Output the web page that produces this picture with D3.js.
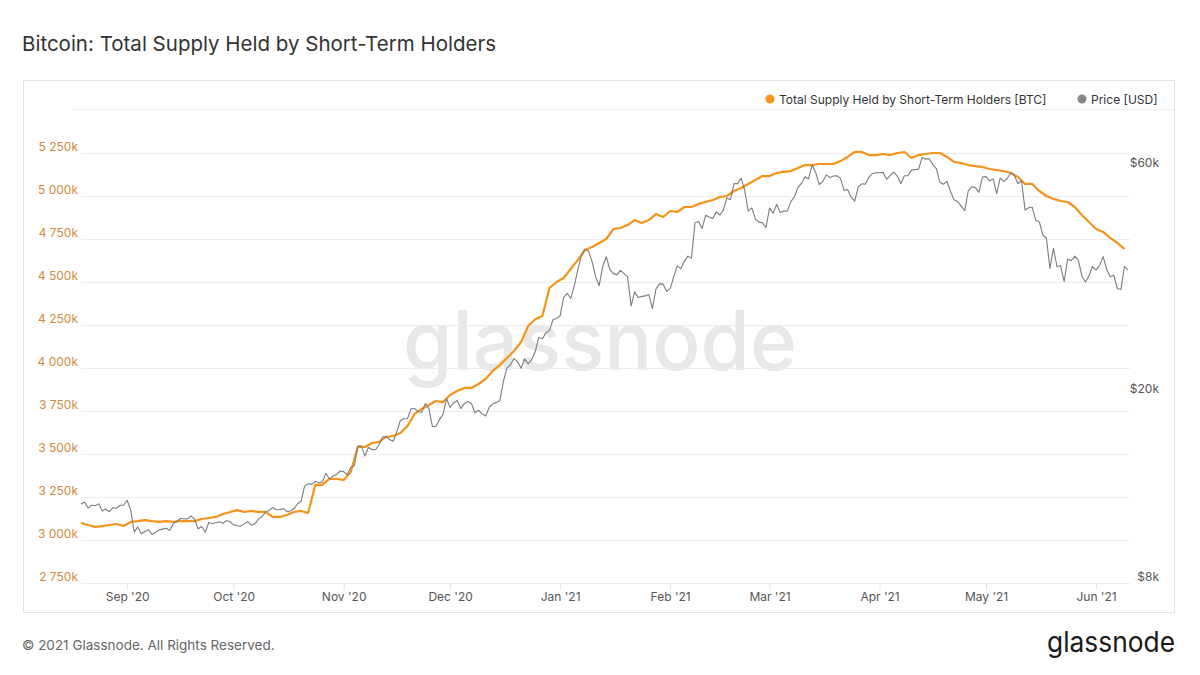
<!DOCTYPE html>
<meta charset="utf-8">
<body>
    <div id="chart"></div>
</body>
<script src="https://cdn.jsdelivr.net/npm/d3@7"></script>
<style>
    body { margin: 0; background: #fff; }
    text { font-family: Inter, "Noto Sans", sans-serif; }
    .grid line { stroke: #ededed; }
</style>
<script>

    // daily BTC price, starting 2020-08-19
    var priceStart = "2020-08-19";
    var priceUsd = [
        11750,11870,11520,11680,11650,11760,11360,11470,11320,11540,11510,11680,11680,
        11970,11410,10250,10510,10170,10280,10370,10130,10240,10360,10400,10440,10330,10680,10790,10950,10940,10930,11090,10920,10420,10530,10240,10740,10690,10730,10780,10700,10840,10780,
        10620,10570,10550,10670,10790,10600,10670,10920,11060,11300,11380,11550,11430,11430,11500,11320,11360,11480,11750,11920,12820,12970,12930,13110,13030,13070,13650,13270,13460,13560,13800,
        13760,13550,14030,14160,15590,15580,14840,15480,15330,15300,15700,16280,16320,16070,15960,16720,17650,17800,17820,18680,18700,18420,18370,19160,18720,17150,17140,17720,18180,19630,
        18800,19220,19450,18700,19150,19360,19170,18320,18550,18250,18040,18800,19140,19250,19420,21310,22800,23140,23870,23480,22750,23820,23250,23730,24710,26440,26280,27040,27360,28840,29000,
        29370,32130,32780,31970,33990,36820,39370,40670,40240,38240,35540,34010,37390,39160,36830,36070,35850,36650,36070,35550,30830,33010,32100,32290,32370,32570,30430,33470,34320,34270,33110,
        33530,35510,37470,36930,38290,39270,38900,46200,46480,44920,47910,47500,47170,48720,47940,49200,52150,51680,55890,55890,57410,54090,48890,49700,47090,46340,46190,45140,
        49630,48380,50540,48560,48930,48910,51210,52380,54880,55960,57800,57220,61190,59000,55660,56470,58330,57600,58030,58100,57350,54100,54340,52300,51320,55030,55850,55780,57630,58730,58920,
        58960,59040,57080,58200,59120,58010,55950,58080,58090,59770,59790,59990,63500,62970,63100,61330,60110,56270,55720,56500,53800,51700,51190,50100,49000,54020,55040,54820,53560,57750,
        57830,56630,57210,53240,57470,56430,57380,58930,58230,55860,56700,49150,49720,49880,46760,46430,43540,42910,37000,40780,37300,37530,34700,38700,38400,39290,38530,35660,34620,35680,37340,
        36690,37570,39190,36830,35520,35800,33550,33400,37390,36680
    ];

    // STH supply in thousands of BTC, every 2nd day from 2020-08-19
    var supplyStart = "2020-08-19";
    var supplyStep = 2;
    var supplyK = [
        3099,3087,3076,3081,3087,3093,3081,3105,3110,3116,
        3110,3105,3110,3105,3110,3110,3110,3122,3128,3134,
        3151,3163,3174,3163,3169,3163,3163,3134,3134,3145,
        3163,3169,3157,3320,3320,3355,3355,3349,3395,3541,
        3541,3564,3570,3599,3605,3622,3663,3733,3762,3785,
        3808,3802,3843,3866,3884,3884,3907,3936,3983,4017,
        4058,4099,4151,4244,4285,4302,4465,4500,4523,4576,
        4628,4686,4703,4727,4750,4808,4814,4831,4860,4843,
        4860,4895,4878,4913,4907,4936,4936,4954,4965,4977,
        4994,5000,5029,5047,5070,5093,5116,5116,5134,5140,
        5145,5163,5180,5180,5186,5186,5186,5203,5227,5256,
        5256,5238,5238,5244,5238,5250,5256,5221,5238,5244,
        5250,5250,5227,5198,5192,5180,5174,5169,5157,5151,
        5145,5134,5110,5070,5070,5029,5000,4983,4971,4965,
        4936,4890,4849,4808,4791,4756,4727,4692
    ];

    var leftTicks = [2750, 3000, 3250, 3500, 3750, 4000, 4250, 4500, 4750, 5000, 5250];
    var rightTicks = [8000, 20000, 60000];
    var monthTicks = ["2020-09-01","2020-10-01","2020-11-01","2020-12-01","2021-01-01",
                      "2021-02-01","2021-03-01","2021-04-01","2021-05-01","2021-06-01"];

    var width = 1200,
        height = 675;
    var plot = {left: 81, right: 1130, top: 110, bottom: 583};

    var orange = "#f7931a",
        grey = "#7c7c7c";

    var parse = d3.utcParse("%Y-%m-%d");

    var priceData = priceUsd.map(function(v, i) {
        return {date: d3.utcDay.offset(parse(priceStart), i), value: v};
    });
    var supplyData = supplyK.map(function(v, i) {
        return {date: d3.utcDay.offset(parse(supplyStart), i * supplyStep), value: v};
    });

    var svg = d3.select("#chart")
        .append("svg")
            .attr("width", width)
            .attr("height", height);

    var x = d3.scaleUtc()
        .domain([parse("2020-08-19"), parse("2021-06-10")])
        .range([plot.left, 1128]);
    var yLeft = d3.scaleLinear()
        .domain([2750, 5500])
        .range([plot.bottom, plot.top]);
    var yRight = d3.scaleLog()
        .domain([8000, 80000])
        .range([plot.bottom, plot.top]);

    // title
    svg.append("text")
        .attr("x", 22).attr("y", 51)
        .attr("font-size", 20.5)
        .attr("fill", "#333")
        .text("Bitcoin: Total Supply Held by Short-Term Holders");

    // frame
    svg.append("rect")
        .attr("x", 23.5).attr("y", 80.5)
        .attr("width", 1151).attr("height", 532)
        .attr("fill", "none")
        .attr("stroke", "#e3e3e3");

    svg.append("line")
        .attr("x1", 70).attr("x2", 1174)
        .attr("y1", 109.5).attr("y2", 109.5)
        .attr("stroke", "#f0f0f0");

    // watermark
    svg.append("text")
        .attr("x", 403).attr("y", 370)
        .attr("font-size", 82)
        .attr("font-weight", 500)
        .attr("textLength", 394)
        .attr("lengthAdjust", "spacingAndGlyphs")
        .attr("fill", "#e8e8e8")
        .text("glassnode");

    // horizontal grid
    svg.append("g")
        .attr("class", "grid")
        .selectAll("line")
        .data(leftTicks)
        .enter().append("line")
            .attr("x1", plot.left).attr("x2", plot.right)
            .attr("y1", function(d) { return Math.round(yLeft(d)) + 0.5; })
            .attr("y2", function(d) { return Math.round(yLeft(d)) + 0.5; });

    // left axis labels
    var fmtK = function(d) { return d3.format(",")(d).replace(",", " ") + "k"; };
    svg.append("g")
        .selectAll("text")
        .data(leftTicks)
        .enter().append("text")
            .attr("x", 78)
            .attr("y", function(d) { return yLeft(d) - 2; })
            .attr("text-anchor", "end")
            .attr("font-size", 12)
            .attr("fill", "#d08c3e")
            .text(fmtK);

    // right axis labels
    svg.append("g")
        .selectAll("text")
        .data(rightTicks)
        .enter().append("text")
            .attr("x", 1159)
            .attr("y", function(d) { return yRight(d) - 2; })
            .attr("text-anchor", "end")
            .attr("font-size", 12)
            .attr("fill", "#555")
            .text(function(d) { return "$" + d / 1000 + "k"; });

    // x axis
    var xAxis = d3.axisBottom(x)
        .tickValues(monthTicks.map(parse))
        .tickSize(7)
        .tickFormat(d3.utcFormat("%b '%y"));

    var gx = svg.append("g")
        .attr("transform", "translate(0," + plot.bottom + ")")
        .call(xAxis);
    gx.select(".domain").remove();
    gx.selectAll(".tick line").attr("stroke", "#e3e3e3");
    gx.selectAll(".tick text")
        .attr("font-family", "Inter, sans-serif")
        .attr("font-size", 12)
        .attr("fill", "#555")
        .attr("dy", "0.95em")
        .attr("y", 7);

    // lines
    var supplyLine = d3.line()
        .x(function(d) { return x(d.date); })
        .y(function(d) { return yLeft(d.value); });
    var priceLine = d3.line()
        .x(function(d) { return x(d.date); })
        .y(function(d) { return yRight(d.value); });

    svg.append("path")
        .datum(supplyData)
        .attr("d", supplyLine)
        .attr("fill", "none")
        .attr("stroke", orange)
        .attr("stroke-width", 2.2)
        .attr("stroke-linejoin", "round");

    svg.append("path")
        .datum(priceData)
        .attr("d", priceLine)
        .attr("fill", "none")
        .attr("stroke", grey)
        .attr("stroke-width", 1.1)
        .attr("stroke-linejoin", "round");

    // legend
    var legend = [
        {label: "Total Supply Held by Short-Term Holders [BTC]", color: orange, x: 770},
        {label: "Price [USD]", color: "#888", x: 1082}
    ];
    var lg = svg.append("g").selectAll("g")
        .data(legend)
        .enter().append("g");
    lg.append("circle")
        .attr("cx", function(d) { return d.x; })
        .attr("cy", 99)
        .attr("r", 4.5)
        .attr("fill", function(d) { return d.color; });
    lg.append("text")
        .attr("x", function(d) { return d.x + 9; })
        .attr("y", 103.5)
        .attr("font-size", 12)
        .attr("fill", "#333")
        .text(function(d) { return d.label; });

    // footer
    svg.append("text")
        .attr("x", 22).attr("y", 650)
        .attr("font-size", 13.5)
        .attr("fill", "#666")
        .text("© 2021 Glassnode. All Rights Reserved.");

    svg.append("text")
        .attr("x", 1175).attr("y", 652)
        .attr("text-anchor", "end")
        .attr("font-size", 28)
        .attr("textLength", 128)
        .attr("lengthAdjust", "spacingAndGlyphs")
        .attr("fill", "#1a1a1a")
        .text("glassnode");

</script>
